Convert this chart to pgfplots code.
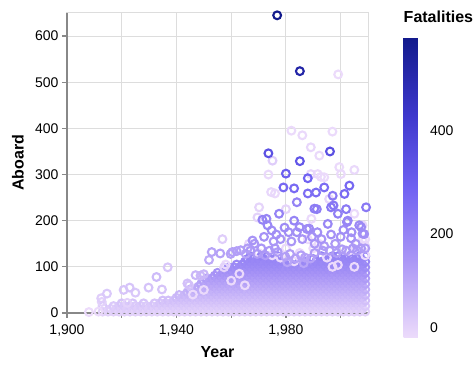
\documentclass[border=0pt]{standalone}
\usepackage{fontspec}
\setmainfont{Liberation Sans}
\usepackage{pgfplots}
\pgfplotsset{compat=1.18}
\usepackage{pgfplotstable}
\definecolor{gridc}{RGB}{221,221,221}
\definecolor{domc}{RGB}{136,136,136}
\pgfplotsset{colormap={fat}{rgb255(0pt)=(236,219,251) rgb255(150pt)=(170,150,246) rgb255(290pt)=(112,98,242) rgb255(430pt)=(62,56,205) rgb255(583pt)=(18,26,140)}}

% dense mass of crashes (year, aboard, colour value)
\pgfplotstableread[row sep=\\]{
x y m\\
1913 3 20\\1913 15 40\\
1915 3 20\\
1916 9 30\\
1917 3 20\\1917 15 40\\
1918 9 30\\
1919 3 20\\1919 15 40\\
1920 9 30\\1920 21 50\\
1921 3 20\\1921 15 40\\
1922 9 30\\
1923 3 20\\1923 15 40\\
1924 9 30\\1924 21 50\\
1925 3 20\\1925 15 40\\
1926 9 30\\
1927 3 20\\1927 15 40\\
1928 9 30\\1928 21 50\\
1929 3 20\\1929 15 40\\
1930 9 30\\
1931 3 20\\1931 15 40\\
1932 9 30\\1932 21 50\\
1933 3 20\\1933 15 40\\
1934 9 30\\1934 21 50\\
1935 3 20\\1935 15 40\\1935 27 60\\
1936 9 30\\1936 21 50\\
1937 3 20\\1937 15 40\\1937 27 60\\
1938 9 30\\1938 21 50\\
1939 3 20\\1939 15 40\\1939 27 60\\
1940 9 30\\1940 21 50\\1940 33 70\\
1941 3 20\\1941 15 40\\1941 27 60\\1941 39 80\\
1942 9 30\\1942 21 50\\1942 33 70\\
1943 3 20\\1943 15 40\\1943 27 60\\1943 39 80\\
1944 9 30\\1944 21 50\\1944 33 70\\1944 45 90\\
1945 3 20\\1945 15 40\\1945 27 60\\1945 39 80\\1945 51 100\\
1946 9 30\\1946 21 50\\1946 33 70\\1946 45 90\\
1947 3 20\\1947 15 40\\1947 27 60\\1947 39 80\\1947 51 100\\
1948 9 30\\1948 21 50\\1948 33 70\\1948 45 90\\1948 57 110\\
1949 3 20\\1949 15 40\\1949 27 60\\1949 39 80\\1949 51 100\\1949 63 120\\
1950 9 30\\1950 21 50\\1950 33 70\\1950 45 90\\1950 57 110\\1950 69 130\\
1951 3 20\\1951 15 40\\1951 27 60\\1951 39 80\\1951 51 100\\1951 63 120\\1951 75 140\\
1952 9 30\\1952 21 50\\1952 33 70\\1952 45 90\\1952 57 110\\1952 69 130\\
1953 3 20\\1953 15 40\\1953 27 60\\1953 39 80\\1953 51 100\\1953 63 120\\1953 75 140\\
1954 9 30\\1954 21 50\\1954 33 70\\1954 45 90\\1954 57 110\\1954 69 130\\1954 81 150\\
1955 3 20\\1955 15 40\\1955 27 60\\1955 39 80\\1955 51 100\\1955 63 120\\1955 75 140\\1955 87 160\\
1956 9 30\\1956 21 50\\1956 33 70\\1956 45 90\\1956 57 110\\1956 69 130\\1956 81 150\\
1957 3 20\\1957 15 40\\1957 27 60\\1957 39 80\\1957 51 100\\1957 63 120\\1957 75 140\\1957 87 160\\
1958 9 30\\1958 21 50\\1958 33 70\\1958 45 90\\1958 57 110\\1958 69 130\\1958 81 150\\1958 93 170\\
1959 3 20\\1959 15 40\\1959 27 60\\1959 39 80\\1959 51 100\\1959 63 120\\1959 75 140\\1959 87 160\\1959 99 178\\
1960 9 30\\1960 21 50\\1960 33 70\\1960 45 90\\1960 57 110\\1960 69 130\\1960 81 150\\1960 93 170\\
1961 3 20\\1961 15 40\\1961 27 60\\1961 39 80\\1961 51 100\\1961 63 120\\1961 75 140\\1961 87 160\\1961 99 178\\
1962 9 30\\1962 21 50\\1962 33 70\\1962 45 90\\1962 57 110\\1962 69 130\\1962 81 150\\1962 93 170\\1962 105 185\\
1963 3 20\\1963 15 40\\1963 27 60\\1963 39 80\\1963 51 100\\1963 63 120\\1963 75 140\\1963 87 160\\1963 99 178\\
1964 9 30\\1964 21 50\\1964 33 70\\1964 45 90\\1964 57 110\\1964 69 130\\1964 81 150\\1964 93 170\\1964 105 185\\
1965 3 20\\1965 15 40\\1965 27 60\\1965 39 80\\1965 51 100\\1965 63 120\\1965 75 140\\1965 87 160\\1965 99 178\\1965 111 190\\
1966 9 30\\1966 21 50\\1966 33 70\\1966 45 90\\1966 57 110\\1966 69 130\\1966 81 150\\1966 93 170\\1966 105 185\\1966 117 195\\
1967 3 20\\1967 15 40\\1967 27 60\\1967 39 80\\1967 51 100\\1967 63 120\\1967 75 140\\1967 87 160\\1967 99 178\\1967 111 190\\1967 123 200\\
1968 9 30\\1968 21 50\\1968 33 70\\1968 45 90\\1968 57 110\\1968 69 130\\1968 81 150\\1968 93 170\\1968 105 185\\1968 117 195\\
1969 3 20\\1969 15 40\\1969 27 60\\1969 39 80\\1969 51 100\\1969 63 120\\1969 75 140\\1969 87 160\\1969 99 178\\1969 111 190\\
1970 9 30\\1970 21 50\\1970 33 70\\1970 45 90\\1970 57 110\\1970 69 130\\1970 81 150\\1970 93 170\\1970 105 185\\1970 117 195\\
1971 3 20\\1971 15 40\\1971 27 60\\1971 39 80\\1971 51 100\\1971 63 120\\1971 75 140\\1971 87 160\\1971 99 178\\1971 111 190\\1971 123 200\\
1972 9 30\\1972 21 50\\1972 33 70\\1972 45 90\\1972 57 110\\1972 69 130\\1972 81 150\\1972 93 170\\1972 105 185\\
1973 3 20\\1973 15 40\\1973 27 60\\1973 39 80\\1973 51 100\\1973 63 120\\1973 75 140\\1973 87 160\\1973 99 178\\1973 111 190\\1973 123 200\\
1974 9 30\\1974 21 50\\1974 33 70\\1974 45 90\\1974 57 110\\1974 69 130\\1974 81 150\\1974 93 170\\1974 105 185\\1974 117 195\\
1975 3 20\\1975 15 40\\1975 27 60\\1975 39 80\\1975 51 100\\1975 63 120\\1975 75 140\\1975 87 160\\1975 99 178\\1975 111 190\\
1976 9 30\\1976 21 50\\1976 33 70\\1976 45 90\\1976 57 110\\1976 69 130\\1976 81 150\\1976 93 170\\1976 105 185\\1976 117 195\\
1977 3 20\\1977 15 40\\1977 27 60\\1977 39 80\\1977 51 100\\1977 63 120\\1977 75 140\\1977 87 160\\1977 99 178\\1977 111 190\\1977 123 200\\
1978 9 30\\1978 21 50\\1978 33 70\\1978 45 90\\1978 57 110\\1978 69 130\\1978 81 150\\1978 93 170\\1978 105 185\\
1979 3 20\\1979 15 40\\1979 27 60\\1979 39 80\\1979 51 100\\1979 63 120\\1979 75 140\\1979 87 160\\1979 99 178\\1979 111 190\\
1980 9 30\\1980 21 50\\1980 33 70\\1980 45 90\\1980 57 110\\1980 69 130\\1980 81 150\\1980 93 170\\
1981 3 20\\1981 15 40\\1981 27 60\\1981 39 80\\1981 51 100\\1981 63 120\\1981 75 140\\1981 87 160\\1981 99 178\\1981 111 190\\
1982 9 30\\1982 21 50\\1982 33 70\\1982 45 90\\1982 57 110\\1982 69 130\\1982 81 150\\1982 93 170\\1982 105 185\\
1983 3 20\\1983 15 40\\1983 27 60\\1983 39 80\\1983 51 100\\1983 63 120\\1983 75 140\\1983 87 160\\1983 99 178\\
1984 9 30\\1984 21 50\\1984 33 70\\1984 45 90\\1984 57 110\\1984 69 130\\1984 81 150\\1984 93 170\\1984 105 185\\
1985 3 20\\1985 15 40\\1985 27 60\\1985 39 80\\1985 51 100\\1985 63 120\\1985 75 140\\1985 87 160\\1985 99 178\\1985 111 190\\
1986 9 30\\1986 21 50\\1986 33 70\\1986 45 90\\1986 57 110\\1986 69 130\\1986 81 150\\1986 93 170\\
1987 3 20\\1987 15 40\\1987 27 60\\1987 39 80\\1987 51 100\\1987 63 120\\1987 75 140\\1987 87 160\\1987 99 178\\1987 111 190\\
1988 9 30\\1988 21 50\\1988 33 70\\1988 45 90\\1988 57 110\\1988 69 130\\1988 81 150\\1988 93 170\\1988 105 185\\
1989 3 20\\1989 15 40\\1989 27 60\\1989 39 80\\1989 51 100\\1989 63 120\\1989 75 140\\1989 87 160\\1989 99 178\\
1990 9 30\\1990 21 50\\1990 33 70\\1990 45 90\\1990 57 110\\1990 69 130\\1990 81 150\\1990 93 170\\1990 105 185\\1990 117 195\\
1991 3 20\\1991 15 40\\1991 27 60\\1991 39 80\\1991 51 100\\1991 63 120\\1991 75 140\\1991 87 160\\1991 99 178\\1991 111 190\\
1992 9 30\\1992 21 50\\1992 33 70\\1992 45 90\\1992 57 110\\1992 69 130\\1992 81 150\\1992 93 170\\1992 105 185\\
1993 3 20\\1993 15 40\\1993 27 60\\1993 39 80\\1993 51 100\\1993 63 120\\1993 75 140\\1993 87 160\\1993 99 178\\1993 111 190\\1993 123 200\\
1994 9 30\\1994 21 50\\1994 33 70\\1994 45 90\\1994 57 110\\1994 69 130\\1994 81 150\\1994 93 170\\1994 105 185\\
1995 3 20\\1995 15 40\\1995 27 60\\1995 39 80\\1995 51 100\\1995 63 120\\1995 75 140\\1995 87 160\\1995 99 178\\1995 111 190\\
1996 9 30\\1996 21 50\\1996 33 70\\1996 45 90\\1996 57 110\\1996 69 130\\1996 81 150\\1996 93 170\\1996 105 185\\1996 117 195\\
1997 3 20\\1997 15 40\\1997 27 60\\1997 39 80\\1997 51 100\\1997 63 120\\1997 75 140\\1997 87 160\\1997 99 178\\1997 111 190\\1997 123 200\\
1998 9 30\\1998 21 50\\1998 33 70\\1998 45 90\\1998 57 110\\1998 69 130\\1998 81 150\\1998 93 170\\1998 105 185\\
1999 3 20\\1999 15 40\\1999 27 60\\1999 39 80\\1999 51 100\\1999 63 120\\1999 75 140\\1999 87 160\\1999 99 178\\1999 111 190\\1999 123 200\\
2000 9 30\\2000 21 50\\2000 33 70\\2000 45 90\\2000 57 110\\2000 69 130\\2000 81 150\\2000 93 170\\2000 105 185\\2000 117 195\\
2001 3 20\\2001 15 40\\2001 27 60\\2001 39 80\\2001 51 100\\2001 63 120\\2001 75 140\\2001 87 160\\2001 99 178\\2001 111 190\\
2002 9 30\\2002 21 50\\2002 33 70\\2002 45 90\\2002 57 110\\2002 69 130\\2002 81 150\\2002 93 170\\2002 105 185\\2002 117 195\\
2003 3 20\\2003 15 40\\2003 27 60\\2003 39 80\\2003 51 100\\2003 63 120\\2003 75 140\\2003 87 160\\2003 99 178\\2003 111 190\\2003 123 200\\
2004 9 30\\2004 21 50\\2004 33 70\\2004 45 90\\2004 57 110\\2004 69 130\\2004 81 150\\2004 93 170\\2004 105 185\\2004 117 195\\
2005 3 20\\2005 15 40\\2005 27 60\\2005 39 80\\2005 51 100\\2005 63 120\\2005 75 140\\2005 87 160\\2005 99 178\\2005 111 190\\
2006 9 30\\2006 21 50\\2006 33 70\\2006 45 90\\2006 57 110\\2006 69 130\\2006 81 150\\2006 93 170\\2006 105 185\\2006 117 195\\
2007 3 20\\2007 15 40\\2007 27 60\\2007 39 80\\2007 51 100\\2007 63 120\\2007 75 140\\2007 87 160\\2007 99 178\\2007 111 190\\2007 123 200\\
2008 9 30\\2008 21 50\\2008 33 70\\2008 45 90\\2008 57 110\\2008 69 130\\2008 81 150\\2008 93 170\\2008 105 185\\
2009 3 20\\2009 15 40\\2009 27 60\\2009 39 80\\2009 51 100\\2009 63 120\\2009 75 140\\2009 87 160\\2009 99 178\\2009 111 190\\2009 123 200\\
}\mass

% individual crashes standing out of the mass (year, aboard, fatalities)
\pgfplotstableread[row sep=\\]{
x y m\\
1999.1 517 0\\1978 120 0\\1983 112 0\\1988 160 0\\2003 135 0\\2005 100 0\\2009 145 0\\
1908 2 1\\1997 100 1\\2008 159 1\\
1982 395 2\\2000.1 301 2\\1991.6 301 2\\1975 125 2\\1999 104 2\\2006 150 2\\2009 125 2\\1960 70 2\\1946 40 2\\
1997 393 3\\1999.5 316 3\\1992.8 295 3\\1994 294 3\\2005 215 3\\1963 85 3\\1990 140 3\\1995 120 3\\1965 60 3\\1911.5 3 3\\
2005 310 4\\1970 130 4\\1950 50 4\\
1986 385 5\\1992.2 341 5\\1973.6 300 5\\1976 259 5\\1989.3 204 5\\1958 105 5\\1980 140 5\\1992 150 5\\2009 160 5\\
1974.6 262 8\\
1989.1 359 10\\1989.1 301 10\\1995.8 247 10\\1985 130 10\\2008 190 10\\1966.5 150 10\\
1980 225 15\\1970.2 229 15\\
1969.6 207 20\\1957.4 99 20\\1912.7 24 20\\1922 22 20\\
1975.1 330 30\\1956.8 160 30\\1912.5 32 30\\
1914.6 42 40\\1925 44 40\\1936.8 99 45\\
1920.7 50 48\\1922.9 55 50\\1934.7 51 50\\1929.8 55 52\\1944.6 60 55\\1944 64 60\\
1932.7 78 70\\1948.8 81 75\\1947 82 80\\1950 84 80\\
1951.9 115 105\\1952.9 132 120\\1965.3 128 120\\1956 129 125\\1959.8 128 125\\1960.4 132 125\\1962 134 130\\1963.5 136 130\\
1980.5 110 115\\1986.5 108 115\\1989 118 120\\1983.5 118 125\\1987 120 125\\1979.8 122 130\\1985.5 125 130\\
1981.5 128 135\\1972.5 125 135\\1990.5 130 135\\1998.5 130 135\\
1969.5 128 140\\1977 132 140\\1993.5 135 140\\1996 135 140\\2000.5 138 140\\2002 135 140\\2006 135 140\\
1974 135 145\\2004.5 140 145\\2007.5 140 145\\1967 135 150\\1971 140 150\\1976 140 150\\
1966 140 135\\2009 140 135\\1994 145 140\\1968.5 150 145\\1990.5 150 145\\1998 150 145\\2005.5 150 145\\
1975.5 155 150\\1982 155 150\\1967.8 157 155\\1978 160 155\\1986 160 155\\1993 160 155\\
1972 165 160\\1989.5 165 160\\2000 165 160\\2003.8 162 160\\
1976.5 170 165\\1996.5 170 165\\2008.6 171 165\\
1981 175 170\\1984 175 170\\1991.5 175 170\\2004 175 170\\2008 172 170\\
1974.8 179 175\\2001 180 175\\
1979.5 185 180\\1985 186 180\\1987.7 182 180\\1988.5 183 180\\2007.5 186 180\\
1973.3 190 185\\2006.8 190 185\\
1972.9 204 190\\1995.3 193 190\\2002.3 197 190\\
2002.6 200 195\\1983 200 198\\
1971.4 202 200\\1977.5 215 200\\1984 240 200\\
1999 215 210\\1991.3 225 215\\1990.4 226 220\\
2002 225 225\\2009.3 229 228\\1997.1 254 228\\
1996.5 229 230\\1997.4 233 234\\
1988 259 259\\1991 261 261\\1994 272 264\\2001.4 258 265\\1983 270 269\\1979.1 272 273\\2003.2 276 275\\
1988 292 290\\1980 302 301\\1985.1 329 329\\1973.6 346 346\\1996.1 350 349\\
1985.1 524 520\\1976.8 645 583\\
}\outl

\pgfplotsset{/pgf/number format/1000 sep={,}, /pgf/number format/assume math mode=true}

\begin{document}
\begin{tikzpicture}
\begin{axis}[
  name=ax,
  scale only axis, width=301pt, height=300pt,
  xmin=1900, xmax=2010, ymin=0, ymax=650,
  xtick={1900,1940,1980}, minor xtick={1920,1960,2000},
  ytick={0,100,200,300,400,500,600},
  grid=both,
  major grid style={draw=gridc, line width=1pt},
  minor grid style={draw=gridc, line width=1pt},
  axis line style={draw=gridc, line width=1pt},
  tick pos=left, tick align=outside,
  major tick length=5pt, minor tick length=5pt,
  tick style={draw=domc, line width=1.3pt},
  minor tick style={draw=domc, line width=1.3pt},
  ticklabel style={font=\fontsize{14}{16}\selectfont},
  xticklabel style={yshift=-3pt},
  xlabel={Year}, ylabel={Aboard},
  label style={font=\fontsize{16}{18}\selectfont\bfseries},
  xlabel style={at={(axis description cs:0.5,-0.13)}, anchor=center},
  ylabel style={at={(axis description cs:-0.163,0.5)}, anchor=center},
  colormap name=fat, point meta min=0, point meta max=583,
  colorbar,
  colorbar style={
    at={(parent axis.north east)}, anchor=north west, xshift=27pt, yshift=-24pt,
    scale only axis, width=23pt, height=300pt,
    ytick={0,200,400}, yticklabels={{\raisebox{18pt}{0}},200,400},
    yticklabel pos=right,
    major tick length=0pt, tick style={draw=none},
    axis line style={draw=none},
    yticklabel style={font=\fontsize{14}{16}\selectfont, anchor=west},
    title={Fatalities},
    title style={font=\fontsize{16}{18}\selectfont\bfseries, at={(0,1)}, anchor=south west, inner sep=0pt, yshift=8pt},
  },
  clip=false,
]
\draw[domc, line width=1.3pt] (rel axis cs:0,0) -- (rel axis cs:0,1);
\draw[domc, line width=1.3pt] (rel axis cs:0,0) -- (rel axis cs:1,0);
\addplot[scatter, only marks, mark=o, mark size=3.9pt, scatter src=explicit,
  scatter/use mapped color={draw=mapped color, fill=none, line width=2.1pt}]
  table[x=x, y=y, meta=m] {\mass};
\addplot[scatter, only marks, mark=o, mark size=3.9pt, scatter src=explicit,
  scatter/use mapped color={draw=mapped color, fill=none, line width=2.1pt}]
  table[x=x, y=y, meta=m] {\outl};
\end{axis}
\pgfresetboundingbox
\path[use as bounding box] ([xshift=-67pt,yshift=-55pt]ax.south west) rectangle ([xshift=106pt,yshift=13pt]ax.north east);
\end{tikzpicture}
\end{document}
